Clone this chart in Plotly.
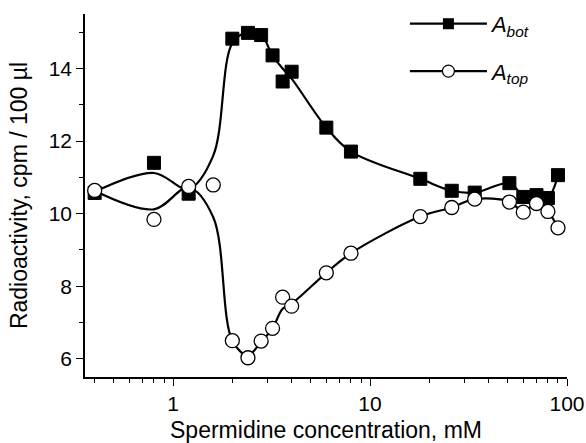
import plotly.graph_objects as go

# Measured points
x_bot = [0.4, 0.8, 1.2, 2.0, 2.4, 2.8, 3.2, 3.6, 4.0, 6, 8, 18, 26, 34, 51, 60, 70, 80, 90]
y_bot = [10.57, 11.40, 10.55, 14.82, 14.98, 14.92, 14.36, 13.64, 13.91, 12.37, 11.71,
         10.96, 10.63, 10.58, 10.84, 10.46, 10.51, 10.43, 11.06]

x_top = [0.4, 0.8, 1.2, 1.6, 2.0, 2.4, 2.8, 3.2, 3.6, 4.0, 6, 8, 18, 26, 34, 51, 60, 70, 80, 90]
y_top = [10.64, 9.84, 10.75, 10.79, 6.50, 6.03, 6.49, 6.84, 7.70, 7.45, 8.37, 8.91,
         9.92, 10.17, 10.40, 10.32, 10.04, 10.28, 10.06, 9.61]

# Smoothed guide curves (nodes of the drawn trend lines)
fit_x = [0.4, 0.8, 1.2, 1.6, 2.0, 2.4, 2.8, 3.2, 3.6, 4.0, 6, 8, 18, 26, 34, 51, 60, 70, 80, 90]
fit_bot = [10.60, 11.12, 10.68, 11.60, 14.70, 15.00, 14.93, 14.35, 14.00, 13.72, 12.37,
           11.71, 10.96, 10.63, 10.58, 10.84, 10.50, 10.53, 10.45, 11.06]
fit_top = [10.63, 10.12, 10.72, 9.90, 6.50, 6.10, 6.47, 6.84, 7.38, 7.52, 8.37, 8.91,
           9.92, 10.17, 10.40, 10.33, 10.06, 10.28, 10.06, 9.61]

x_ticks = [1, 10, 100]
x_minor = [0.4, 0.5, 0.6, 0.7, 0.8, 0.9, 2, 3, 4, 5, 6, 7, 8, 9,
           20, 30, 40, 50, 60, 70, 80, 90]

FONT = "Arial, Liberation Sans, sans-serif"
line_style = dict(color="black", width=2.2, shape="spline", smoothing=1.0)
sq = dict(symbol="square", size=13, color="black", line=dict(color="black", width=1))
circ = dict(symbol="circle", size=14, color="white", line=dict(color="black", width=1.3))

fig = go.Figure()
fig.add_trace(go.Scatter(x=fit_x, y=fit_bot, mode="lines", line=line_style,
                         showlegend=False, hoverinfo="skip"))
fig.add_trace(go.Scatter(x=x_bot, y=y_bot, mode="markers", marker=sq,
                         showlegend=False))
fig.add_trace(go.Scatter(x=fit_x, y=fit_top, mode="lines", line=line_style,
                         showlegend=False, hoverinfo="skip"))
fig.add_trace(go.Scatter(x=x_top, y=y_top, mode="markers", marker=circ,
                         showlegend=False))

# Legend entries
fig.add_trace(go.Scatter(x=[None], y=[None], mode="lines+markers",
                         line=dict(color="black", width=2.2),
                         marker=dict(symbol="square", size=11, color="black"),
                         name="<i>A</i><sub><i>bot</i></sub>", legend="legend"))
fig.add_trace(go.Scatter(x=[None], y=[None], mode="lines+markers",
                         line=dict(color="black", width=2.2),
                         marker=dict(symbol="circle", size=12, color="white",
                                     line=dict(color="black", width=1.2)),
                         name="<i>A</i><sub><i>top</i></sub>", legend="legend2"))

axis_common = dict(showline=True, linecolor="black", linewidth=1.5, ticks="outside",
                   tickcolor="black", tickwidth=1.3, ticklen=7, showgrid=False,
                   zeroline=False, tickfont=dict(family=FONT, size=21, color="black"),
                   mirror=False, automargin=False)

legend_common = dict(font=dict(family=FONT, size=22, color="black"),
                     bgcolor="rgba(0,0,0,0)", itemwidth=77,
                     xanchor="left", yanchor="middle",
                     xref="container", yref="container")

fig.update_layout(
    width=586, height=443,
    margin=dict(l=85, r=19, t=14, b=66, autoexpand=False),
    plot_bgcolor="white", paper_bgcolor="white",
    xaxis=dict(type="log", range=[-0.447, 2.0], tickvals=x_ticks,
               ticktext=[str(v) for v in x_ticks],
               minor=dict(tickvals=x_minor, ticks="outside", ticklen=4,
                          tickcolor="black", tickwidth=1.2, showgrid=False),
               title=dict(text="Spermidine concentration, mM",
                          font=dict(family=FONT, size=23, color="black")),
               **axis_common),
    yaxis=dict(range=[5.5, 15.5], tick0=0, dtick=2,
               minor=dict(dtick=1, ticks="outside", ticklen=4, tickcolor="black",
                          tickwidth=1.2, showgrid=False),
               title=dict(text="Radioactivity, cpm / 100 µl",
                          font=dict(family=FONT, size=23, color="black")),
               **axis_common),
    legend=dict(x=0.691, y=0.946, **legend_common),
    legend2=dict(x=0.691, y=0.839, **legend_common),
)

fig.write_html("out.html")
